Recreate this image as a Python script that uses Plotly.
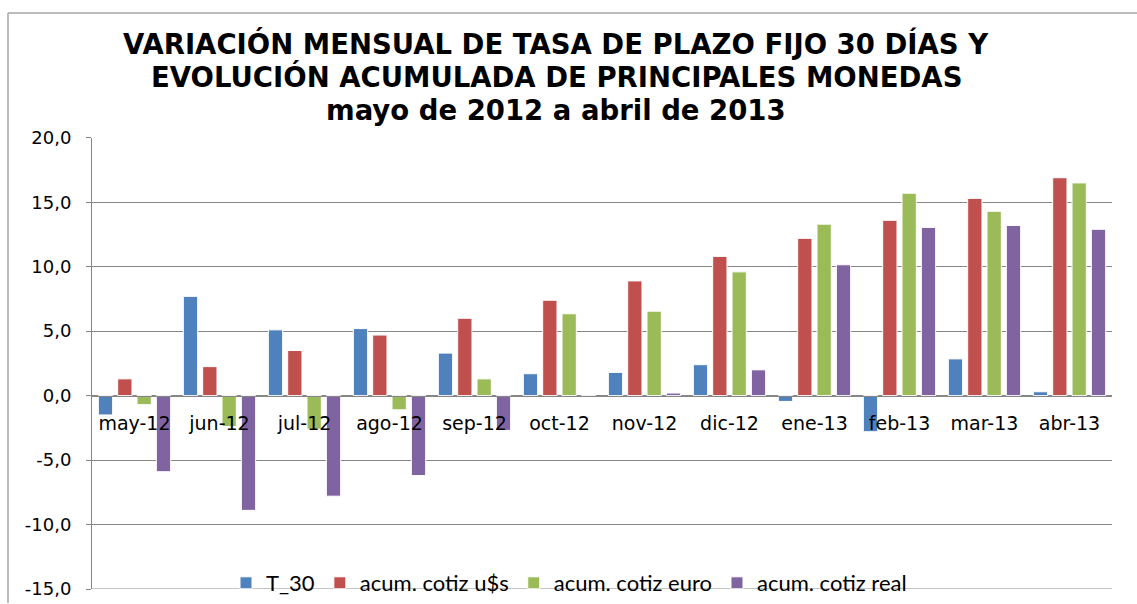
import plotly.graph_objects as go

categories = ["may-12", "jun-12", "jul-12", "ago-12", "sep-12", "oct-12",
              "nov-12", "dic-12", "ene-13", "feb-13", "mar-13", "abr-13"]
t_30 = [-1.5, 7.7, 5.1, 5.2, 3.3, 1.7, 1.8, 2.4, -0.45, -2.8, 2.85, 0.3]
acum_usd = [1.3, 2.25, 3.5, 4.7, 6.0, 7.4, 8.9, 10.8, 12.2, 13.6, 15.3, 16.9]
acum_euro = [-0.7, -2.4, -2.6, -1.1, 1.3, 6.35, 6.55, 9.6, 13.3, 15.7, 14.3, 16.5]
acum_real = [-5.9, -8.9, -7.8, -6.2, -2.7, -0.1, 0.2, 2.0, 10.15, 13.05, 13.2, 12.9]

series = [
    ("T_30", t_30, "#4F81BD"),
    ("acum. cotiz u$s", acum_usd, "#C0504D"),
    ("acum. cotiz euro", acum_euro, "#9BBB59"),
    ("acum. cotiz real", acum_real, "#8064A2"),
]

title_lines = [
    "VARIACIÓN MENSUAL DE TASA DE PLAZO FIJO 30 DÍAS Y",
    "EVOLUCIÓN ACUMULADA DE PRINCIPALES MONEDAS",
    "mayo de 2012 a abril de 2013",
]

y_ticks = [-15, -10, -5, 0, 5, 10, 15, 20]
y_tick_labels = ["-15,0", "-10,0", "-5,0", "0,0", "5,0", "10,0", "15,0", "20,0"]
y_min, y_max = -15, 20

W, H = 1137, 604
plot_left, plot_right, plot_top, plot_bottom = 92, 1112, 138, 590


def fx(x):
    return x / W


def fy(y):
    return 1 - y / H


fig = go.Figure()
for name, vals, col in series:
    fig.add_trace(go.Bar(
        x=categories, y=vals, name=name,
        marker=dict(color=col, line=dict(color="white", width=1)),
    ))

zero_pos = fy(plot_bottom) + (0 - y_min) / (y_max - y_min) * (fy(plot_top) - fy(plot_bottom))

title_centers = [44, 77, 110]
annotations = [
    dict(text=line, xref="paper", yref="paper",
         x=fx(556), y=fy(cy), xanchor="center", yanchor="middle",
         showarrow=False,
         font=dict(family="DejaVu Sans", size=27.5, color="black", weight="bold"))
    for line, cy in zip(title_lines, title_centers)
]

fig.update_layout(
    width=W, height=H,
    margin=dict(l=0, r=0, t=0, b=0, pad=0),
    paper_bgcolor="white", plot_bgcolor="white",
    barmode="group", bargap=0.09, bargroupgap=0.26,
    annotations=annotations,
    font=dict(family="DejaVu Sans", color="black"),
    xaxis=dict(
        domain=[fx(plot_left), fx(plot_right)],
        anchor="free", position=zero_pos, automargin=False,
        showline=True, linecolor="#868686", linewidth=1,
        ticks="", showgrid=False,
        tickfont=dict(family="DejaVu Sans", size=19, color="black"),
        ticklabelstandoff=11,
    ),
    yaxis=dict(
        domain=[fy(plot_bottom), fy(plot_top)], automargin=False,
        range=[y_min, y_max], tickvals=y_ticks, ticktext=y_tick_labels,
        showgrid=True, gridcolor="#868686", gridwidth=1,
        showline=True, linecolor="#868686", linewidth=1,
        ticks="outside", ticklen=5, tickcolor="#868686",
        zeroline=False,
        tickfont=dict(family="DejaVu Sans", size=18, color="black"),
        ticklabelstandoff=11,
    ),
    showlegend=True,
    legend=dict(
        orientation="h", xref="paper", yref="paper",
        x=fx(226), xanchor="left",
        y=fy(584), yanchor="middle",
        font=dict(family="Lato", size=22, color="black"),
        bgcolor="rgba(0,0,0,0)", traceorder="normal",
        itemwidth=30,
    ),
    shapes=[
        dict(type="line", xref="paper", yref="paper",
             x0=fx(8), x1=fx(8), y0=fy(13), y1=0,
             line=dict(color="#A6A6A6", width=1.5)),
        dict(type="line", xref="paper", yref="paper",
             x0=fx(8), x1=1, y0=fy(13), y1=fy(13),
             line=dict(color="#A6A6A6", width=1.5)),
        dict(type="line", xref="x domain", yref="y",
             x0=0, x1=1, y0=y_min, y1=y_min,
             line=dict(color="#868686", width=1)),
    ],
)

fig.write_html("out.html", config={"displayModeBar": False},
               post_script="document.body.style.margin='0';")
